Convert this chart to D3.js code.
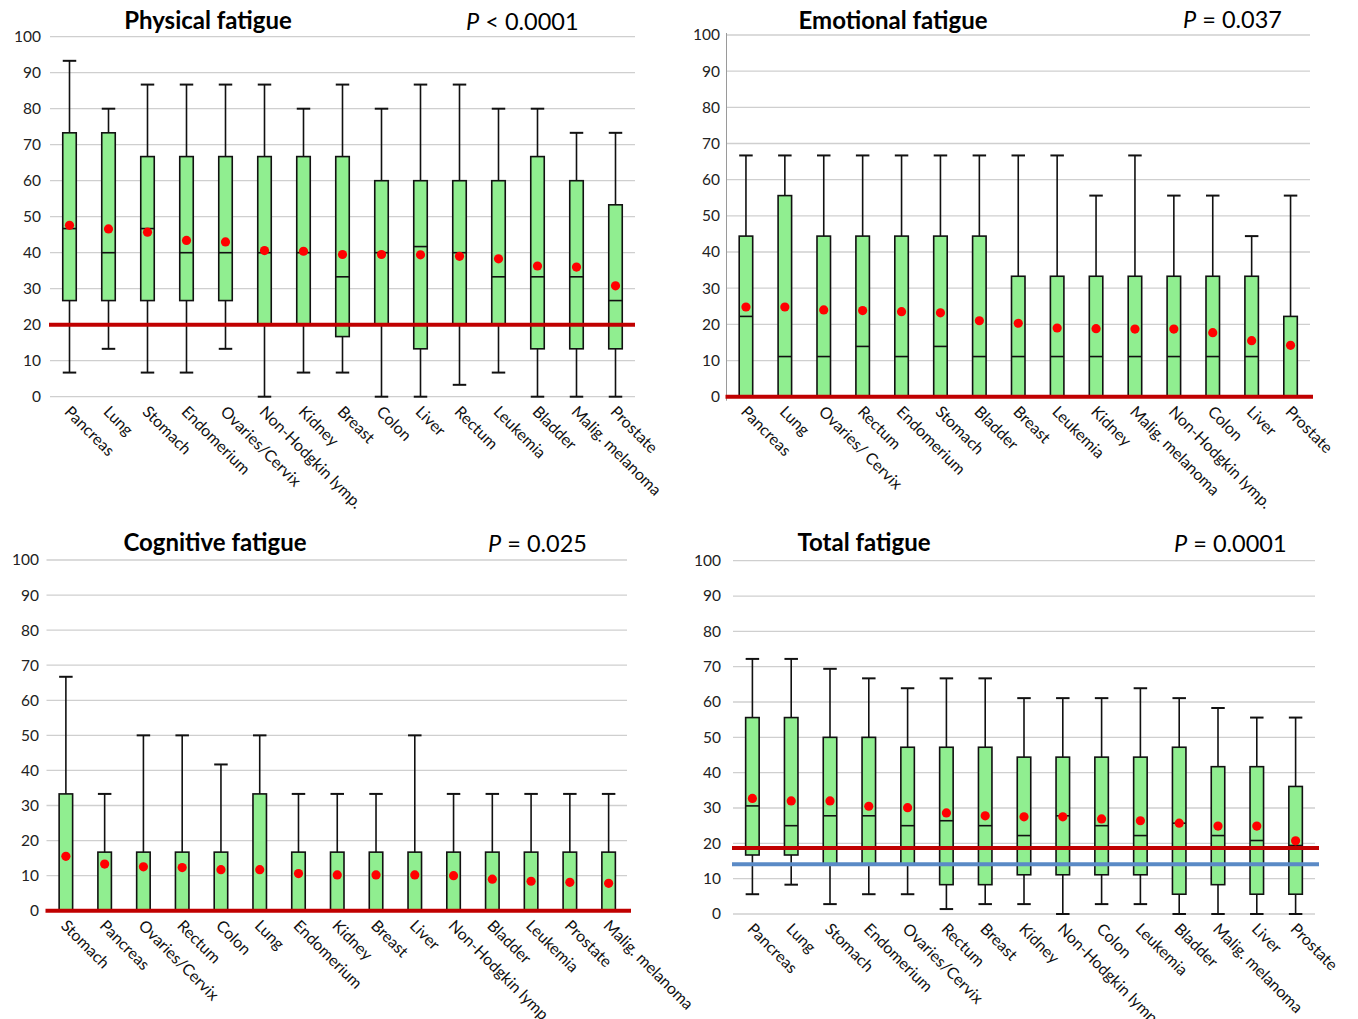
<!DOCTYPE html>
<html><head><meta charset="utf-8">
<script src="https://cdn.jsdelivr.net/npm/d3@7"></script>
<style>body{margin:0;background:#fff}svg{display:block}text{font-family:Lato,"Open Sans",sans-serif}</style>
</head><body><svg id="c" width="1358" height="1019"></svg>
<script>
// ---- Data ----
const yTicks = [0,10,20,30,40,50,60,70,80,90,100];

const physCats = ["Pancreas","Lung","Stomach","Endomerium","Ovaries/Cervix","Non-Hodgkin lymp.","Kidney","Breast","Colon","Liver","Rectum","Leukemia","Bladder","Malig. melanoma","Prostate"];
const physMin  = [6.7,13.3,6.7,6.7,13.3,0,6.7,6.7,0,0,3.3,6.7,0,0,0];
const physQ1   = [26.7,26.7,26.7,26.7,26.7,20,20,16.7,20,13.3,20,20,13.3,13.3,13.3];
const physMed  = [46.7,40,46.7,40,40,40,40,33.3,40,41.7,40,33.3,33.3,33.3,26.7];
const physQ3   = [73.3,73.3,66.7,66.7,66.7,66.7,66.7,66.7,60,60,60,60,66.7,60,53.3];
const physMax  = [93.3,80,86.7,86.7,86.7,86.7,80,86.7,80,86.7,86.7,80,80,73.3,73.3];
const physMean = [47.6,46.6,45.7,43.4,43.0,40.6,40.4,39.5,39.5,39.4,39.0,38.3,36.3,36.0,30.8];

const emoCats = ["Pancreas","Lung","Ovaries/ Cervix","Rectum","Endomerium","Stomach","Bladder","Breast","Leukemia","Kidney","Malig. melanoma","Non-Hodgkin lymp.","Colon","Liver","Prostate"];
const emoMin  = [0,0,0,0,0,0,0,0,0,0,0,0,0,0,0];
const emoQ1   = [0,0,0,0,0,0,0,0,0,0,0,0,0,0,0];
const emoMed  = [22.2,11.1,11.1,13.9,11.1,13.9,11.1,11.1,11.1,11.1,11.1,11.1,11.1,11.1,0];
const emoQ3   = [44.4,55.6,44.4,44.4,44.4,44.4,44.4,33.3,33.3,33.3,33.3,33.3,33.3,33.3,22.2];
const emoMax  = [66.7,66.7,66.7,66.7,66.7,66.7,66.7,66.7,66.7,55.6,66.7,55.6,55.6,44.4,55.6];
const emoMean = [24.8,24.8,24.0,23.8,23.5,23.2,21.0,20.3,19.0,18.8,18.7,18.7,17.7,15.5,14.2];

const cogCats = ["Stomach","Pancreas","Ovaries/Cervix","Rectum","Colon","Lung","Endomerium","Kidney","Breast","Liver","Non-Hodgkin lymp.","Bladder","Leukemia","Prostate","Malig. melanoma"];
const cogMin  = [0,0,0,0,0,0,0,0,0,0,0,0,0,0,0];
const cogQ1   = [0,0,0,0,0,0,0,0,0,0,0,0,0,0,0];
const cogMed  = [0,0,0,0,0,0,0,0,0,0,0,0,0,0,0];
const cogQ3   = [33.3,16.7,16.7,16.7,16.7,33.3,16.7,16.7,16.7,16.7,16.7,16.7,16.7,16.7,16.7];
const cogMax  = [66.7,33.3,50,50,41.7,50,33.3,33.3,33.3,50,33.3,33.3,33.3,33.3,33.3];
const cogMean = [15.5,13.3,12.5,12.3,11.7,11.7,10.6,10.2,10.2,10.2,10.0,9.0,8.4,8.1,7.8];

const totCats = ["Pancreas","Lung","Stomach","Endomerium","Ovaries/Cervix","Rectum","Breast","Kidney","Non-Hodgkin lymp.","Colon","Leukemia","Bladder","Malig. melanoma","Liver","Prostate"];
const totMin  = [5.6,8.3,2.8,5.6,5.6,1.4,2.8,2.8,0,2.8,2.8,0,0,0,0];
const totQ1   = [16.7,16.7,13.9,13.9,13.9,8.3,8.3,11.1,11.1,11.1,11.1,5.6,8.3,5.6,5.6];
const totMed  = [30.6,25,27.8,27.8,25,26.4,25,22.2,27.8,25,22.2,25.7,22.2,20.8,19.4];
const totQ3   = [55.6,55.6,50,50,47.2,47.2,47.2,44.4,44.4,44.4,44.4,47.2,41.7,41.7,36.1];
const totMax  = [72.2,72.2,69.4,66.7,63.9,66.7,66.7,61.1,61.1,61.1,63.9,61.1,58.3,55.6,55.6];
const totMean = [32.7,32.0,32.0,30.5,30.1,28.6,27.8,27.5,27.5,26.9,26.4,25.7,24.9,24.9,20.7];

const titles = ["Physical fatigue","Emotional fatigue","Cognitive fatigue","Total fatigue"];
const pLabels = [" < 0.0001"," = 0.037"," = 0.025"," = 0.0001"];
const redRef = [20, 0, 0, 18.7];
const blueRef = [null, null, null, 14.1];

// ---- Layout ----
const panels = [
  {cats:physCats,min:physMin,q1:physQ1,med:physMed,q3:physQ3,max:physMax,mean:physMean,
   x0:50,x1:635,y0:396.7,y100:36.7,tickX:41,gx1:635,lx1:635,tx:208,ty:29,px:466,py:30,axis:false},
  {cats:emoCats,min:emoMin,q1:emoQ1,med:emoMed,q3:emoQ3,max:emoMax,mean:emoMean,
   x0:726.5,x1:1310,y0:396.7,y100:35,tickX:720,gx1:1310,lx1:1313,tx:893,ty:29,px:1183,py:28,axis:true},
  {cats:cogCats,min:cogMin,q1:cogQ1,med:cogMed,q3:cogQ3,max:cogMax,mean:cogMean,
   x0:46.5,x1:628,y0:910.7,y100:560,tickX:39,gx1:627,lx1:631,tx:215,ty:551,px:488,py:552,axis:false},
  {cats:totCats,min:totMin,q1:totQ1,med:totMed,q3:totQ3,max:totMax,mean:totMean,
   x0:733,x1:1315,y0:914,y100:560.7,tickX:721,gx1:1315,lx1:1319,tx:864,ty:551,px:1174,py:552,axis:false}
];

const svg = d3.select("#c");

panels.forEach((p,i)=>{
  const g = svg.append("g");
  const x = d3.scaleBand().domain(p.cats).range([p.x0,p.x1]).paddingInner(0).paddingOuter(0);
  const y = d3.scaleLinear().domain([0,100]).range([p.y0,p.y100]);
  const cx = c => x(c) + x.bandwidth()/2;
  const bw = 13.5;

  // gridlines
  g.append("g").selectAll("line").data(yTicks).join("line")
    .attr("x1",p.x0).attr("x2",p.gx1).attr("y1",d=>y(d)).attr("y2",d=>y(d))
    .attr("stroke","#cfcfcf").attr("stroke-width",1.3);

  // y axis labels
  const ax = d3.axisLeft(y).tickValues(yTicks).tickSize(0).tickPadding(0);
  const axg = g.append("g").attr("transform",`translate(${p.tickX},0)`).call(ax);
  axg.select(".domain").remove();
  axg.selectAll("text").attr("font-size",15.5).attr("fill","#222").attr("font-family","Lato,'Open Sans',sans-serif").attr("dy","0.32em");

  if (p.axis) {
    g.append("line").attr("x1",p.x0).attr("x2",p.x0).attr("y1",y(100)-2).attr("y2",p.y0+4)
      .attr("stroke","#9a9a9a").attr("stroke-width",1);
  }

  const data = p.cats.map((c,j)=>({c,min:p.min[j],q1:p.q1[j],med:p.med[j],q3:p.q3[j],max:p.max[j],mean:p.mean[j]}));

  // whiskers
  g.append("g").selectAll("line").data(data).join("line")
    .attr("x1",d=>cx(d.c)).attr("x2",d=>cx(d.c)).attr("y1",d=>y(d.min)).attr("y2",d=>y(d.max))
    .attr("stroke","#111").attr("stroke-width",1.6);
  g.append("g").selectAll("line").data(data).join("line")
    .attr("x1",d=>cx(d.c)-bw/2).attr("x2",d=>cx(d.c)+bw/2).attr("y1",d=>y(d.max)).attr("y2",d=>y(d.max))
    .attr("stroke","#111").attr("stroke-width",2);
  g.append("g").selectAll("line").data(data).join("line")
    .attr("x1",d=>cx(d.c)-bw/2).attr("x2",d=>cx(d.c)+bw/2).attr("y1",d=>y(d.min)).attr("y2",d=>y(d.min))
    .attr("stroke","#111").attr("stroke-width",2);
  // boxes
  g.append("g").selectAll("rect").data(data).join("rect")
    .attr("x",d=>cx(d.c)-bw/2).attr("width",bw)
    .attr("y",d=>y(d.q3)).attr("height",d=>y(d.q1)-y(d.q3))
    .attr("fill","#90ee90").attr("stroke","#111").attr("stroke-width",1.6);
  // medians
  g.append("g").selectAll("line").data(data).join("line")
    .attr("x1",d=>cx(d.c)-bw/2).attr("x2",d=>cx(d.c)+bw/2).attr("y1",d=>y(d.med)).attr("y2",d=>y(d.med))
    .attr("stroke","#111").attr("stroke-width",1.6);

  // reference lines
  g.append("line").attr("x1",p.x0-1).attr("x2",p.lx1).attr("y1",y(redRef[i])).attr("y2",y(redRef[i]))
    .attr("stroke","#c00000").attr("stroke-width",4);
  if (blueRef[i]!==null) {
    g.append("line").attr("x1",p.x0-1).attr("x2",p.lx1).attr("y1",y(blueRef[i])).attr("y2",y(blueRef[i]))
      .attr("stroke","#5a8ac6").attr("stroke-width",4);
  }

  // means
  g.append("g").selectAll("circle").data(data).join("circle")
    .attr("cx",d=>cx(d.c)).attr("cy",d=>y(d.mean)).attr("r",4.6).attr("fill","#ff0000");

  // x labels
  g.append("g").selectAll("text").data(p.cats).join("text")
    .attr("transform",c=>`translate(${cx(c)-6},${p.y0+16}) rotate(45)`)
    .attr("font-size",16).attr("fill","#111").text(c=>c);

  // title & p
  g.append("text").attr("x",p.tx).attr("y",p.ty).attr("text-anchor","middle")
    .attr("font-size",24).attr("font-weight","bold").attr("fill","#000").text(titles[i]);
  const pt = g.append("text").attr("x",p.px).attr("y",p.py).attr("font-size",23.5).attr("fill","#000");
  pt.append("tspan").attr("font-style","italic").text("P");
  pt.append("tspan").text(pLabels[i]);
});
</script></body></html>
